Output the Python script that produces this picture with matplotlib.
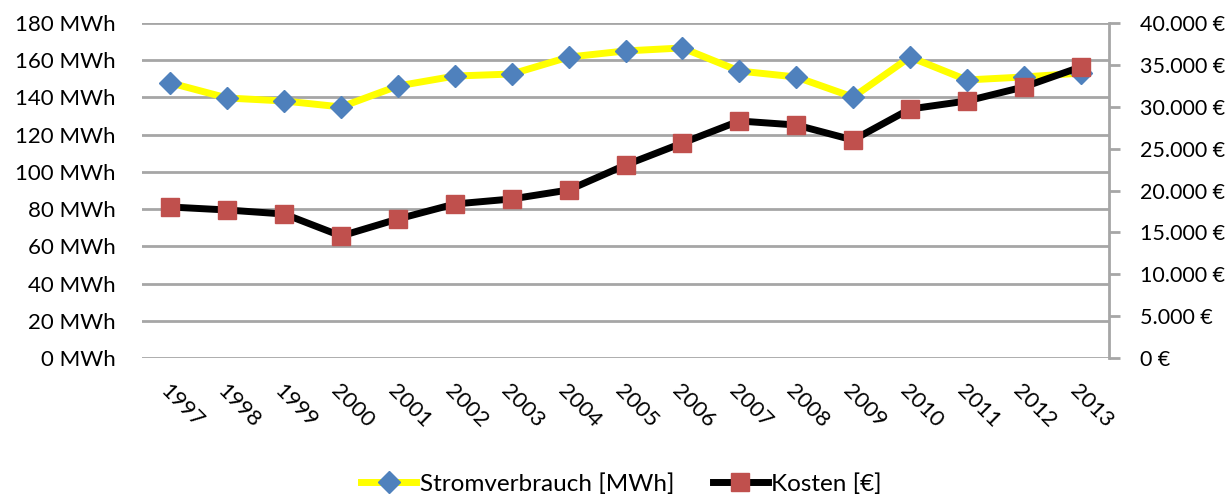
import matplotlib.pyplot as plt
from matplotlib.ticker import FuncFormatter

years = [str(y) for y in range(1997, 2014)]
strom_mwh = [147.8, 139.7, 138.1, 134.9, 146.2, 151.5, 152.6, 161.7, 165.0,
             166.6, 154.2, 151.0, 140.2, 161.7, 149.4, 151.0, 153.1]
kosten_eur = [18030, 17670, 17190, 14570, 16600, 18390, 18990, 20060, 23040,
              25670, 28300, 27820, 26030, 29730, 30690, 32360, 34750]

plt.rcParams['font.family'] = ['Lato', 'DejaVu Sans']
GRID = '#A6A6A6'
FS = 16


def eur(v, _):
    return f'{int(v):,} €'.replace(',', '.')


def main():
    fig = plt.figure(figsize=(12.32, 4.95), dpi=100)
    ax = fig.add_axes([0.1153, 0.2768, 0.7849, 0.6767])
    ax2 = ax.twinx()

    x = list(range(len(years)))
    ax.plot(x, strom_mwh, color='#FFFF00', lw=5, marker='D', ms=11,
            mfc='#4F81BD', mec='#4F81BD', zorder=3,
            label='Stromverbrauch [MWh]')
    ax2.plot(x, kosten_eur, color='black', lw=5, marker='s', ms=13,
             mfc='#C0504D', mec='#C0504D', zorder=3, label='Kosten [€]')

    ax.set_xlim(-0.5, len(years) - 0.5)
    ax.set_ylim(0, 180)
    ax.set_yticks(range(0, 181, 20))
    ax.yaxis.set_major_formatter(FuncFormatter(lambda v, _: f'{int(v)} MWh'))
    ax2.set_ylim(0, 40000)
    ax2.set_yticks(range(0, 40001, 5000))
    ax2.yaxis.set_major_formatter(FuncFormatter(eur))

    ax.grid(axis='y', color=GRID, lw=2)
    ax.set_axisbelow(True)
    for a in (ax, ax2):
        for s in a.spines.values():
            s.set_visible(False)
    ax2.spines['right'].set_visible(True)
    ax2.spines['right'].set_color(GRID)
    ax2.spines['right'].set_linewidth(2)
    ax.tick_params(axis='y', length=0, labelsize=FS, pad=19)
    ax2.tick_params(axis='y', length=8, width=2, color=GRID, labelsize=15.5,
                    pad=14)
    ax.set_xticks(x)
    ax.set_xticklabels(years, rotation=-45, ha='left', va='top',
                       rotation_mode='anchor', fontsize=FS)
    ax.tick_params(axis='x', length=0, pad=16)

    h1, l1 = ax.get_legend_handles_labels()
    h2, l2 = ax2.get_legend_handles_labels()
    fig.legend(h1 + h2, l1 + l2, loc='center', bbox_to_anchor=(0.5045, 0.022),
               ncol=2, frameon=False, fontsize=17.5, handlelength=2.25,
               handletextpad=0.15, columnspacing=1.6)

    fig.savefig('out.png', dpi=100)


if __name__ == '__main__':
    main()
